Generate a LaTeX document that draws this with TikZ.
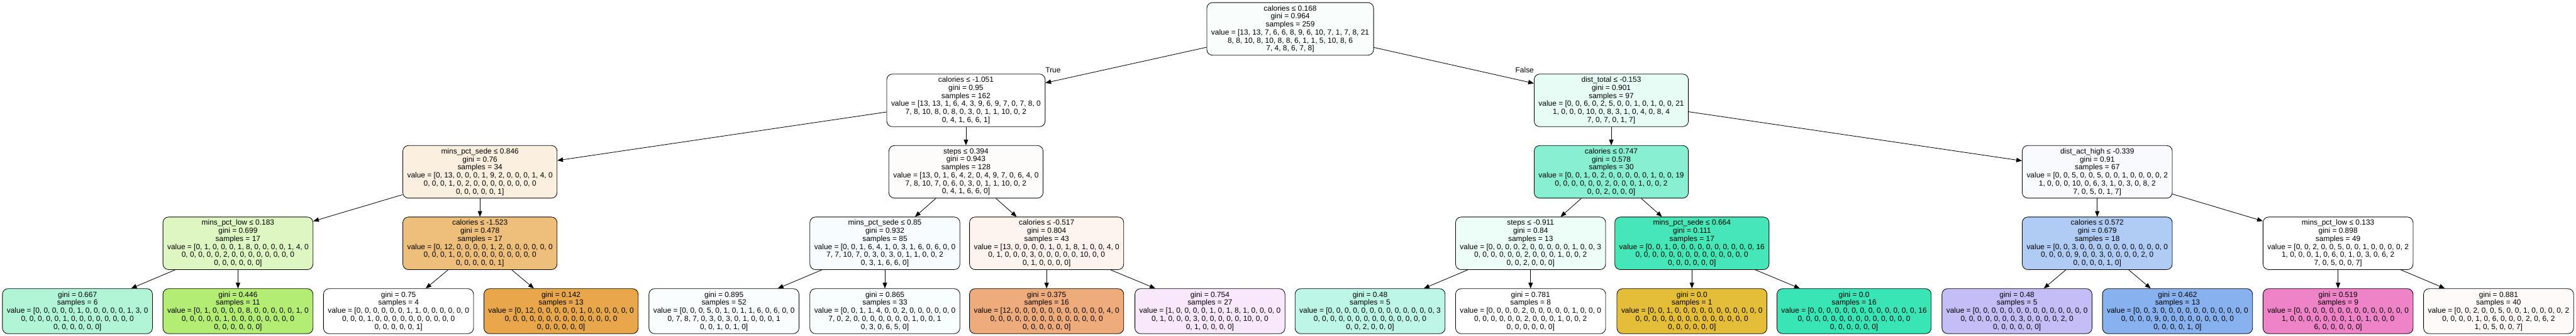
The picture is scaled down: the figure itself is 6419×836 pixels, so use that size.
\documentclass[tikz,border=0pt]{standalone}
\usepackage{fontspec}
\setmainfont{Liberation Sans}
\usepackage{tikz}
\usetikzlibrary{arrows.meta}
\definecolor{c0}{RGB}{249,254,253}
\definecolor{c2}{RGB}{251,240,223}
\definecolor{c3}{RGB}{222,247,194}
\definecolor{c4}{RGB}{176,245,213}
\definecolor{c5}{RGB}{180,237,116}
\definecolor{c6}{RGB}{238,191,123}
\definecolor{c8}{RGB}{231,167,74}
\definecolor{c9}{RGB}{254,252,250}
\definecolor{c10}{RGB}{247,252,254}
\definecolor{c11}{RGB}{250,253,254}
\definecolor{c12}{RGB}{248,254,253}
\definecolor{c13}{RGB}{253,244,237}
\definecolor{c14}{RGB}{238,171,123}
\definecolor{c15}{RGB}{249,232,252}
\definecolor{c16}{RGB}{230,252,245}
\definecolor{c17}{RGB}{135,239,210}
\definecolor{c18}{RGB}{237,253,248}
\definecolor{c19}{RGB}{189,246,230}
\definecolor{c21}{RGB}{69,231,185}
\definecolor{c22}{RGB}{229,190,57}
\definecolor{c23}{RGB}{57,229,180}
\definecolor{c24}{RGB}{248,250,254}
\definecolor{c25}{RGB}{176,204,245}
\definecolor{c26}{RGB}{196,189,246}
\definecolor{c27}{RGB}{136,178,239}
\definecolor{c29}{RGB}{239,131,200}
\definecolor{c30}{RGB}{254,250,249}
\tikzstyle{splitnode} = [draw,line width=1.3pt,rounded corners=14pt,align=center,inner xsep=11pt,inner ysep=0pt,minimum height=131pt,fill=white]
\tikzstyle{leafnode} = [splitnode,minimum height=112pt]
\tikzstyle{branch} = [line width=1.3pt,-{Triangle[length=14pt,width=11pt]}]

\begin{document}
\begin{tikzpicture}[x=1pt,y=1pt,font=\fontsize{18.7}{20}\selectfont]
\fill[white] (0,0) rectangle (6419,836);

\draw(3215,764) node[splitnode,fill=c0] (n0) {calories ≤ 0.168\\gini = 0.964\\samples = 259\\value = [13, 13, 7, 6, 6, 8, 9, 6, 10, 7, 1, 7, 8, 21\\8, 8, 10, 8, 10, 8, 8, 6, 1, 1, 5, 10, 8, 6\\7, 4, 8, 6, 7, 8]};

\draw(2407,586) node[splitnode] (n1) {calories ≤ -1.051\\gini = 0.95\\samples = 162\\value = [13, 13, 1, 6, 4, 3, 9, 6, 9, 7, 0, 7, 8, 0\\7, 8, 10, 8, 0, 8, 0, 3, 0, 1, 1, 10, 0, 2\\0, 4, 1, 6, 6, 1]};
\draw(4015,586) node[splitnode,fill=c16] (n16) {dist\_total ≤ -0.153\\gini = 0.901\\samples = 97\\value = [0, 0, 6, 0, 2, 5, 0, 0, 1, 0, 1, 0, 0, 21\\1, 0, 0, 0, 10, 0, 8, 3, 1, 0, 4, 0, 8, 4\\7, 0, 7, 0, 1, 7]};

\draw(1196,408) node[splitnode,fill=c2] (n2) {mins\_pct\_sede ≤ 0.846\\gini = 0.76\\samples = 34\\value = [0, 13, 0, 0, 0, 1, 9, 2, 0, 0, 0, 1, 4, 0\\0, 0, 0, 1, 0, 2, 0, 0, 0, 0, 0, 0, 0, 0\\0, 0, 0, 0, 0, 1]};
\draw(2407,408) node[splitnode,fill=c9] (n9) {steps ≤ 0.394\\gini = 0.943\\samples = 128\\value = [13, 0, 1, 6, 4, 2, 0, 4, 9, 7, 0, 6, 4, 0\\7, 8, 10, 7, 0, 6, 0, 3, 0, 1, 1, 10, 0, 2\\0, 4, 1, 6, 6, 0]};
\draw(4015,408) node[splitnode,fill=c17] (n17) {calories ≤ 0.747\\gini = 0.578\\samples = 30\\value = [0, 0, 1, 0, 2, 0, 0, 0, 0, 0, 1, 0, 0, 19\\0, 0, 0, 0, 0, 0, 2, 0, 0, 0, 1, 0, 0, 2\\0, 0, 2, 0, 0, 0]};
\draw(5226,408) node[splitnode,fill=c24] (n24) {dist\_act\_high ≤ -0.339\\gini = 0.91\\samples = 67\\value = [0, 0, 5, 0, 0, 5, 0, 0, 1, 0, 0, 0, 0, 2\\1, 0, 0, 0, 10, 0, 6, 3, 1, 0, 3, 0, 8, 2\\7, 0, 5, 0, 1, 7]};

\draw(593,230) node[splitnode,fill=c3] (n3) {mins\_pct\_low ≤ 0.183\\gini = 0.699\\samples = 17\\value = [0, 1, 0, 0, 0, 1, 8, 0, 0, 0, 0, 1, 4, 0\\0, 0, 0, 0, 0, 2, 0, 0, 0, 0, 0, 0, 0, 0\\0, 0, 0, 0, 0, 0]};
\draw(1196,230) node[splitnode,fill=c6] (n6) {calories ≤ -1.523\\gini = 0.478\\samples = 17\\value = [0, 12, 0, 0, 0, 0, 1, 2, 0, 0, 0, 0, 0, 0\\0, 0, 0, 1, 0, 0, 0, 0, 0, 0, 0, 0, 0, 0\\0, 0, 0, 0, 0, 1]};
\draw(2205,230) node[splitnode,fill=c10] (n10) {mins\_pct\_sede ≤ 0.85\\gini = 0.932\\samples = 85\\value = [0, 0, 1, 6, 4, 1, 0, 3, 1, 6, 0, 6, 0, 0\\7, 7, 10, 7, 0, 3, 0, 3, 0, 1, 1, 0, 0, 2\\0, 3, 1, 6, 6, 0]};
\draw(2608,230) node[splitnode,fill=c13] (n13) {calories ≤ -0.517\\gini = 0.804\\samples = 43\\value = [13, 0, 0, 0, 0, 1, 0, 1, 8, 1, 0, 0, 4, 0\\0, 1, 0, 0, 0, 3, 0, 0, 0, 0, 0, 10, 0, 0\\0, 1, 0, 0, 0, 0]};
\draw(3814,230) node[splitnode,fill=c18] (n18) {steps ≤ -0.911\\gini = 0.84\\samples = 13\\value = [0, 0, 0, 0, 2, 0, 0, 0, 0, 0, 1, 0, 0, 3\\0, 0, 0, 0, 0, 0, 2, 0, 0, 0, 1, 0, 0, 2\\0, 0, 2, 0, 0, 0]};
\draw(4216,230) node[splitnode,fill=c21] (n21) {mins\_pct\_sede ≤ 0.664\\gini = 0.111\\samples = 17\\value = [0, 0, 1, 0, 0, 0, 0, 0, 0, 0, 0, 0, 0, 16\\0, 0, 0, 0, 0, 0, 0, 0, 0, 0, 0, 0, 0, 0\\0, 0, 0, 0, 0, 0]};
\draw(5226,230) node[splitnode,fill=c25] (n25) {calories ≤ 0.572\\gini = 0.679\\samples = 18\\value = [0, 0, 3, 0, 0, 0, 0, 0, 0, 0, 0, 0, 0, 0\\0, 0, 0, 0, 9, 0, 0, 3, 0, 0, 0, 0, 2, 0\\0, 0, 0, 0, 1, 0]};
\draw(5826,230) node[splitnode] (n28) {mins\_pct\_low ≤ 0.133\\gini = 0.898\\samples = 49\\value = [0, 0, 2, 0, 0, 5, 0, 0, 1, 0, 0, 0, 0, 2\\1, 0, 0, 0, 1, 0, 6, 0, 1, 0, 3, 0, 6, 2\\7, 0, 5, 0, 0, 7]};

\draw(193,61) node[leafnode,fill=c4] (n4) {gini = 0.667\\samples = 6\\value = [0, 0, 0, 0, 0, 1, 0, 0, 0, 0, 0, 1, 3, 0\\0, 0, 0, 0, 0, 1, 0, 0, 0, 0, 0, 0, 0, 0\\0, 0, 0, 0, 0, 0]};
\draw(593,61) node[leafnode,fill=c5] (n5) {gini = 0.446\\samples = 11\\value = [0, 1, 0, 0, 0, 0, 8, 0, 0, 0, 0, 0, 1, 0\\0, 0, 0, 0, 0, 1, 0, 0, 0, 0, 0, 0, 0, 0\\0, 0, 0, 0, 0, 0]};
\draw(993,61) node[leafnode] (n7) {gini = 0.75\\samples = 4\\value = [0, 0, 0, 0, 0, 0, 1, 1, 0, 0, 0, 0, 0, 0\\0, 0, 0, 1, 0, 0, 0, 0, 0, 0, 0, 0, 0, 0\\0, 0, 0, 0, 0, 1]};
\draw(1398,61) node[leafnode,fill=c8] (n8) {gini = 0.142\\samples = 13\\value = [0, 12, 0, 0, 0, 0, 0, 1, 0, 0, 0, 0, 0, 0\\0, 0, 0, 0, 0, 0, 0, 0, 0, 0, 0, 0, 0, 0\\0, 0, 0, 0, 0, 0]};
\draw(1804,61) node[leafnode,fill=c11] (n11) {gini = 0.895\\samples = 52\\value = [0, 0, 0, 5, 0, 1, 0, 1, 1, 6, 0, 6, 0, 0\\0, 7, 8, 7, 0, 3, 0, 3, 0, 1, 0, 0, 0, 1\\0, 0, 1, 0, 1, 0]};
\draw(2205,61) node[leafnode,fill=c12] (n12) {gini = 0.865\\samples = 33\\value = [0, 0, 1, 1, 4, 0, 0, 2, 0, 0, 0, 0, 0, 0\\7, 0, 2, 0, 0, 0, 0, 0, 0, 0, 1, 0, 0, 1\\0, 3, 0, 6, 5, 0]};
\draw(2608,61) node[leafnode,fill=c14] (n14) {gini = 0.375\\samples = 16\\value = [12, 0, 0, 0, 0, 0, 0, 0, 0, 0, 0, 0, 4, 0\\0, 0, 0, 0, 0, 0, 0, 0, 0, 0, 0, 0, 0, 0\\0, 0, 0, 0, 0, 0]};
\draw(3015,61) node[leafnode,fill=c15] (n15) {gini = 0.754\\samples = 27\\value = [1, 0, 0, 0, 0, 1, 0, 1, 8, 1, 0, 0, 0, 0\\0, 1, 0, 0, 0, 3, 0, 0, 0, 0, 0, 10, 0, 0\\0, 1, 0, 0, 0, 0]};
\draw(3414,61) node[leafnode,fill=c19] (n19) {gini = 0.48\\samples = 5\\value = [0, 0, 0, 0, 0, 0, 0, 0, 0, 0, 0, 0, 0, 3\\0, 0, 0, 0, 0, 0, 0, 0, 0, 0, 0, 0, 0, 0\\0, 0, 2, 0, 0, 0]};
\draw(3814,61) node[leafnode] (n20) {gini = 0.781\\samples = 8\\value = [0, 0, 0, 0, 2, 0, 0, 0, 0, 0, 1, 0, 0, 0\\0, 0, 0, 0, 0, 0, 2, 0, 0, 0, 1, 0, 0, 2\\0, 0, 0, 0, 0, 0]};
\draw(4216,61) node[leafnode,fill=c22] (n22) {gini = 0.0\\samples = 1\\value = [0, 0, 1, 0, 0, 0, 0, 0, 0, 0, 0, 0, 0, 0\\0, 0, 0, 0, 0, 0, 0, 0, 0, 0, 0, 0, 0, 0\\0, 0, 0, 0, 0, 0]};
\draw(4620,61) node[leafnode,fill=c23] (n23) {gini = 0.0\\samples = 16\\value = [0, 0, 0, 0, 0, 0, 0, 0, 0, 0, 0, 0, 0, 16\\0, 0, 0, 0, 0, 0, 0, 0, 0, 0, 0, 0, 0, 0\\0, 0, 0, 0, 0, 0]};
\draw(5026,61) node[leafnode,fill=c26] (n26) {gini = 0.48\\samples = 5\\value = [0, 0, 0, 0, 0, 0, 0, 0, 0, 0, 0, 0, 0, 0\\0, 0, 0, 0, 0, 0, 0, 3, 0, 0, 0, 0, 2, 0\\0, 0, 0, 0, 0, 0]};
\draw(5426,61) node[leafnode,fill=c27] (n27) {gini = 0.462\\samples = 13\\value = [0, 0, 3, 0, 0, 0, 0, 0, 0, 0, 0, 0, 0, 0\\0, 0, 0, 0, 9, 0, 0, 0, 0, 0, 0, 0, 0, 0\\0, 0, 0, 0, 1, 0]};
\draw(5826,61) node[leafnode,fill=c29] (n29) {gini = 0.519\\samples = 9\\value = [0, 0, 0, 0, 0, 0, 0, 0, 0, 0, 0, 0, 0, 0\\1, 0, 0, 0, 0, 0, 0, 0, 1, 0, 1, 0, 0, 0\\6, 0, 0, 0, 0, 0]};
\draw(6226,61) node[leafnode,fill=c30] (n30) {gini = 0.881\\samples = 40\\value = [0, 0, 2, 0, 0, 5, 0, 0, 1, 0, 0, 0, 0, 2\\0, 0, 0, 0, 1, 0, 6, 0, 0, 0, 2, 0, 6, 2\\1, 0, 5, 0, 0, 7]};

\draw[branch] (n0) -- (n1);
\draw[branch] (n0) -- (n16);
\draw[branch] (n1) -- (n2);
\draw[branch] (n1) -- (n9);
\draw[branch] (n16) -- (n17);
\draw[branch] (n16) -- (n24);
\draw[branch] (n2) -- (n3);
\draw[branch] (n2) -- (n6);
\draw[branch] (n9) -- (n10);
\draw[branch] (n9) -- (n13);
\draw[branch] (n17) -- (n18);
\draw[branch] (n17) -- (n21);
\draw[branch] (n24) -- (n25);
\draw[branch] (n24) -- (n28);
\draw[branch] (n3) -- (n4);
\draw[branch] (n3) -- (n5);
\draw[branch] (n6) -- (n7);
\draw[branch] (n6) -- (n8);
\draw[branch] (n10) -- (n11);
\draw[branch] (n10) -- (n12);
\draw[branch] (n13) -- (n14);
\draw[branch] (n13) -- (n15);
\draw[branch] (n18) -- (n19);
\draw[branch] (n18) -- (n20);
\draw[branch] (n21) -- (n22);
\draw[branch] (n21) -- (n23);
\draw[branch] (n25) -- (n26);
\draw[branch] (n25) -- (n27);
\draw[branch] (n28) -- (n29);
\draw[branch] (n28) -- (n30);

\draw([yshift=3pt]n1.north east) node[anchor=base west,inner sep=0pt] (lt) {True};
\draw([yshift=3pt]n16.north west) node[anchor=base east,inner sep=0pt] (lf) {False};

\end{tikzpicture}
\end{document}
